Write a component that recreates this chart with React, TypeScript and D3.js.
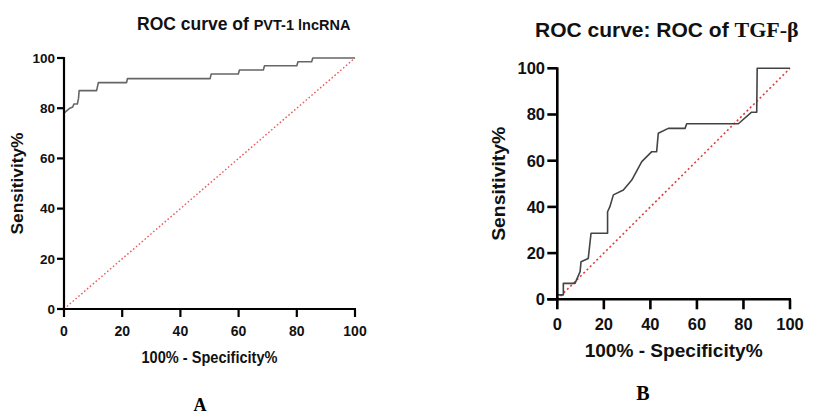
import React from 'react';
import * as d3 from 'd3';

// ---- data ----
const tickValues = [0, 20, 40, 60, 80, 100];

// Panel A: ROC curve of PVT-1 lncRNA
const rocAFpr = [0, 0, 1, 2, 3, 3.4, 4.6, 5, 5.2, 11.2, 11.8, 21.5, 21.8, 50.2, 50.6, 59.9, 60.3, 68.5, 68.9, 80, 80.4, 85.1, 85.5, 100];
const rocASens = [0, 78, 79, 80, 80.5, 81.7, 81.7, 84, 87, 87, 90.2, 90.2, 91.8, 91.8, 93.6, 93.6, 95.2, 95.2, 96.9, 96.9, 98.5, 98.5, 100, 100];

// Panel B: ROC of TGF-β
const rocBFpr = [0, 0, 2.6, 2.6, 7.6, 9.8, 10.2, 13.3, 14.5, 21.6, 21.6, 22.6, 24.1, 28.4, 32, 36.3, 40.6, 42.7, 43.4, 47.7, 54.9, 55.6, 77.8, 83.5, 85.7, 85.9, 100];
const rocBSens = [0, 1.9, 1.9, 6.9, 6.9, 12, 16.3, 17.7, 28.6, 28.6, 37.9, 40.1, 45.2, 47.3, 51.6, 59.6, 63.9, 63.9, 71.9, 74, 74, 76, 76, 81, 81, 100, 100];

const diagonal = [0, 100];

const SANS = "'Liberation Sans', Arial, sans-serif";
const SERIF = "'Liberation Serif', 'Times New Roman', serif";

type PanelProps = {
  fpr: number[];
  sens: number[];
  left: number; right: number; bottom: number; top: number;
  curveColor: string; curveWidth: number;
  axisWidth: number;
  yTickLen: number; xTickLen: number;
  yTickFont: number; xTickFont: number;
  yTickLabelX: number; xTickBaseline: number;
  xLabelY: number; xLabelSize: number; xLabelLen: number;
  yLabelX: number; yLabelSize: number; yLabelLen: number;
  diagDash: string; diagWidth: number; diagColor: string;
};

function Panel(p: PanelProps) {
  const x = d3.scaleLinear().domain([0, 100]).range([p.left, p.right]);
  const y = d3.scaleLinear().domain([0, 100]).range([p.bottom, p.top]);
  const pts: [number, number][] = p.fpr.map((f, i) => [f, p.sens[i]]);
  const line = d3.line<[number, number]>().x(d => x(d[0])).y(d => y(d[1]));
  const diagPts: [number, number][] = diagonal.map(v => [v, v]);
  const cx = (p.left + p.right) / 2;
  const cy = (p.top + p.bottom) / 2;
  return (
    <g>
      <path d={line(diagPts) || ''} fill="none" stroke={p.diagColor} strokeWidth={p.diagWidth} strokeDasharray={p.diagDash} />
      <path d={line(pts) || ''} fill="none" stroke={p.curveColor} strokeWidth={p.curveWidth} strokeLinejoin="round" />
      {/* axes */}
      <line x1={p.left} x2={p.left} y1={p.top - 1} y2={p.bottom} stroke="#000" strokeWidth={p.axisWidth} />
      <line x1={p.left - p.yTickLen} x2={p.right + 1} y1={p.bottom} y2={p.bottom} stroke="#000" strokeWidth={p.axisWidth} />
      {tickValues.map(t => (
        <g key={'y' + t}>
          <line x1={p.left - p.yTickLen} x2={p.left} y1={y(t)} y2={y(t)} stroke="#000" strokeWidth={p.axisWidth} />
          <text x={p.yTickLabelX} y={y(t)} dy="0.36em" textAnchor="end" fontFamily={SANS} fontWeight="bold" fontSize={p.yTickFont} fill="#111">{t}</text>
        </g>
      ))}
      {tickValues.map(t => (
        <g key={'x' + t}>
          <line x1={x(t)} x2={x(t)} y1={p.bottom} y2={p.bottom + p.xTickLen} stroke="#000" strokeWidth={p.axisWidth} />
          <text x={x(t)} y={p.xTickBaseline} textAnchor="middle" fontFamily={SANS} fontWeight="bold" fontSize={p.xTickFont} fill="#111">{t}</text>
        </g>
      ))}
      <text x={cx} y={p.xLabelY} textAnchor="middle" fontFamily={SANS} fontWeight="bold" fontSize={p.xLabelSize} fill="#111" textLength={p.xLabelLen} lengthAdjust="spacingAndGlyphs">100% - Specificity%</text>
      <text transform={`translate(${p.yLabelX},${cy}) rotate(-90)`} textAnchor="middle" fontFamily={SANS} fontWeight="bold" fontSize={p.yLabelSize} fill="#111" textLength={p.yLabelLen} lengthAdjust="spacingAndGlyphs">Sensitivity%</text>
    </g>
  );
}

export default function App() {
  return (
    <svg width={814} height={416} style={{ position: 'absolute', left: 0, top: 0, background: '#fff' }}>
      <rect width={814} height={416} fill="#fff" />
      {/* Panel A */}
      <text x={137} y={29.5} fontFamily={SANS} fontWeight="bold" fill="#111">
        <tspan fontSize={17.5}>ROC curve of </tspan>
        <tspan fontSize={14.5}>PVT-1 lncRNA</tspan>
      </text>
      <Panel
        fpr={rocAFpr} sens={rocASens}
        left={64} right={355} bottom={309} top={58}
        curveColor="#666" curveWidth={1.6} axisWidth={2.2}
        yTickLen={7} xTickLen={8} yTickFont={13.5} xTickFont={14}
        yTickLabelX={55} xTickBaseline={336}
        xLabelY={363} xLabelSize={16} xLabelLen={136}
        yLabelX={23} yLabelSize={16} yLabelLen={102}
        diagDash="1.6 2.2" diagWidth={1.4} diagColor="#e8595c"
      />
      <text x={200} y={411} textAnchor="middle" fontFamily={SERIF} fontWeight="bold" fontSize={18} fill="#000">A</text>

      {/* Panel B */}
      <text x={535} y={37} fontFamily={SANS} fontWeight="bold" fill="#111">
        <tspan fontSize={21}>ROC curve: ROC of </tspan>
        <tspan fontFamily={SERIF} fontSize={22}>TGF-β</tspan>
      </text>
      <Panel
        fpr={rocBFpr} sens={rocBSens}
        left={557.3} right={790} bottom={299.3} top={68.3}
        curveColor="#444" curveWidth={1.6} axisWidth={2.6}
        yTickLen={10} xTickLen={10} yTickFont={16.5} xTickFont={16.5}
        yTickLabelX={545} xTickBaseline={330}
        xLabelY={357} xLabelSize={18.5} xLabelLen={178}
        yLabelX={505} yLabelSize={18} yLabelLen={114}
        diagDash="2 2.6" diagWidth={1.6} diagColor="#e23b3f"
      />
      <text x={643} y={400} textAnchor="middle" fontFamily={SERIF} fontWeight="bold" fontSize={20} fill="#000">B</text>
    </svg>
  );
}
